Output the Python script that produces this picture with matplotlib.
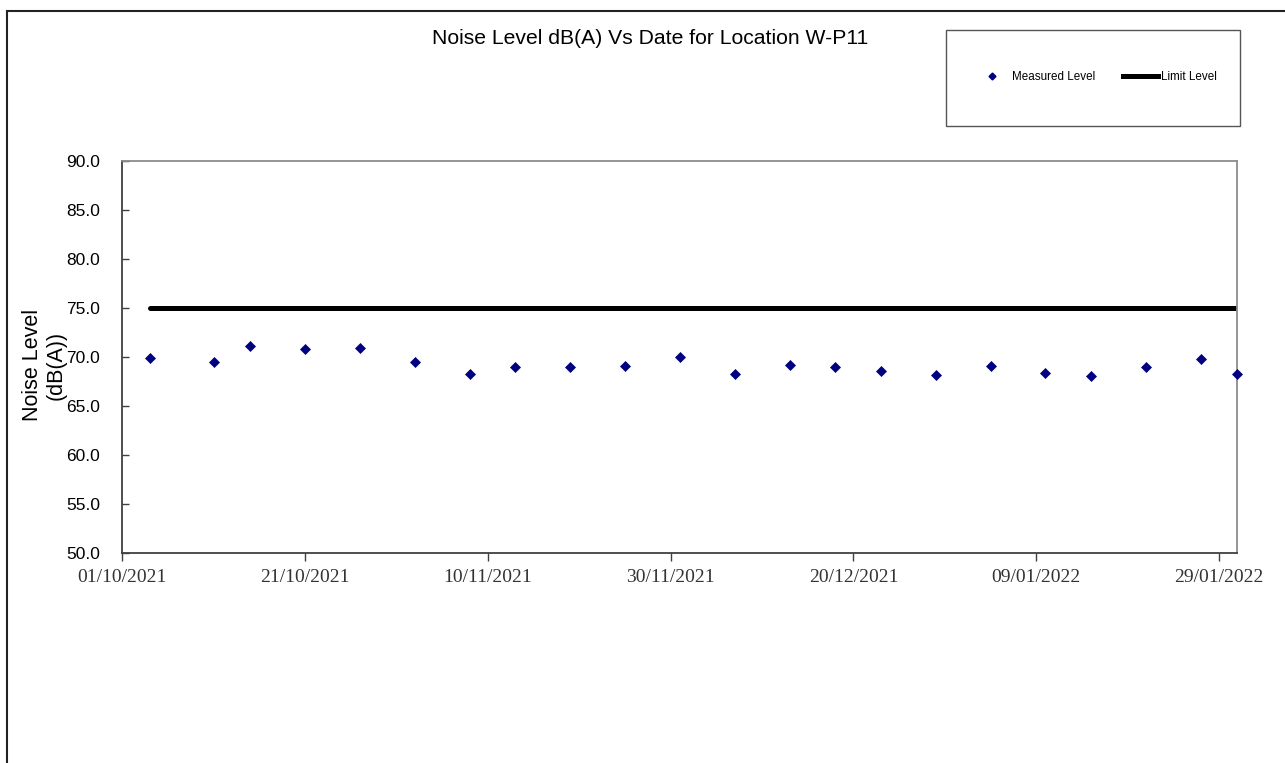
import matplotlib
matplotlib.use('Agg')
import matplotlib.pyplot as plt
import matplotlib.dates as mdates
from matplotlib.patches import Rectangle
from matplotlib.lines import Line2D
from datetime import datetime, timedelta

# measurement dates and levels dB(A)
dates = ['04/10/2021', '11/10/2021', '15/10/2021', '21/10/2021', '27/10/2021',
         '02/11/2021', '08/11/2021', '13/11/2021', '19/11/2021', '25/11/2021',
         '01/12/2021', '07/12/2021', '13/12/2021', '18/12/2021', '23/12/2021',
         '29/12/2021', '04/01/2022', '10/01/2022', '15/01/2022', '21/01/2022',
         '27/01/2022', '31/01/2022']
levels = [69.9, 69.5, 71.1, 70.8, 70.9,
          69.5, 68.2, 68.9, 68.9, 69.1,
          70.0, 68.2, 69.2, 68.9, 68.5,
          68.1, 69.1, 68.3, 68.0, 68.9,
          69.8, 68.2]
limit_level = 75.0
x_start = '01/10/2021'
x_end = '31/01/2022'
tick_step_days = 20

plt.rcParams['font.family'] = ['Liberation Sans', 'DejaVu Sans']

d = [datetime.strptime(s, '%d/%m/%Y') for s in dates]
x0 = datetime.strptime(x_start, '%d/%m/%Y')
x1 = datetime.strptime(x_end, '%d/%m/%Y')

fig = plt.figure(figsize=(12.85, 7.63), dpi=100)
ax = fig.add_axes([0.0952, 0.2756, 0.8677, 0.5138])

ax.plot(d, levels, ls='none', marker='D', ms=4.6, color='#000080', mec='#000080',
        mew=0.5, clip_on=False, zorder=3)
ax.plot([d[0], x1], [limit_level, limit_level], color='black', lw=3.6,
        solid_capstyle='round', zorder=2)

ax.set_xlim(x0, x1)
ax.set_ylim(50, 90)
ax.set_yticks(range(50, 91, 5))
ax.set_yticklabels(['%.1f' % v for v in range(50, 91, 5)], fontsize=12.5)

ticks = []
t = x0
while t <= x1:
    ticks.append(t)
    t += timedelta(days=tick_step_days)
ax.set_xticks(ticks)
ax.xaxis.set_major_formatter(mdates.DateFormatter('%d/%m/%Y'))
for lab in ax.get_xticklabels():
    lab.set_family('Liberation Serif')
    lab.set_fontsize(14)
    lab.set_color('#333333')

ax.tick_params(axis='y', direction='in', length=5, width=1, color='#404040', pad=16)
ax.tick_params(axis='x', direction='out', length=6, width=1, color='#404040', pad=5.5)
for s in ['left', 'bottom']:
    ax.spines[s].set_color('#404040')
    ax.spines[s].set_linewidth(1.3)
for s in ['top', 'right']:
    ax.spines[s].set_color('#8c8c8c')
    ax.spines[s].set_linewidth(1.3)

fig.text(0.0346, 0.5216, 'Noise Level\n(dB(A))', rotation=90, ha='center', va='center',
         fontsize=15.5, linespacing=1.15, multialignment='center')

fig.text(0.5058, 0.950, 'Noise Level dB(A) Vs Date for Location W-P11',
         ha='center', va='center', fontsize=15.2)

# outer chart border
fig.patches.append(Rectangle((0.0058, -0.2), 1.5, 1.1856, transform=fig.transFigure,
                             fill=False, ec='#222222', lw=1.5))
# legend box
fig.patches.append(Rectangle((0.7362, 0.8349), 0.2288, 0.1262, transform=fig.transFigure,
                             fill=False, ec='#555555', lw=1.0))

handles = [Line2D([], [], ls='none', marker='D', ms=3.5, color='#000080'),
           Line2D([], [], color='black', lw=3.6)]
fig.legend(handles, ['Measured Level', 'Limit Level'], loc='center left',
           bbox_to_anchor=(0.7535, 0.899), ncol=2, frameon=False, fontsize=8.4,
           handlelength=3.05, handletextpad=0.2, columnspacing=2.35, borderpad=0)

fig.savefig('out.png', dpi=100)
